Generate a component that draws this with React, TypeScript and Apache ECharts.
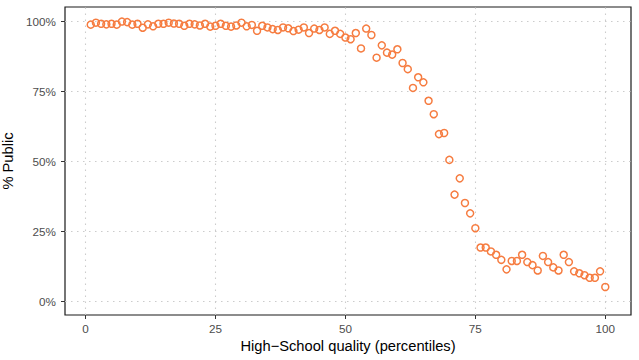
import React, { useEffect, useRef } from "react";
import * as echarts from "echarts";

const percentiles: number[] = Array.from({ length: 100 }, (_, i) => i + 1);
const publicShare: number[] = [
  98.7, 99.4, 99.0, 98.8, 99.0, 98.7, 99.8, 99.6, 98.7, 99.0,
  97.6, 98.8, 98.1, 99.0, 99.0, 99.4, 99.1, 99.0, 98.3, 99.0,
  98.8, 98.4, 99.0, 98.0, 98.3, 99.0, 98.3, 98.0, 98.4, 99.4,
  98.1, 98.6, 96.5, 98.3, 97.7, 97.1, 96.8, 97.7, 97.4, 96.4,
  96.9, 97.7, 95.7, 97.3, 96.8, 97.7, 95.4, 96.5, 95.4, 94.1,
  93.5, 95.7, 90.2, 97.3, 95.0, 86.9, 91.3, 88.7, 88.0, 89.9,
  85.0, 82.8, 76.1, 79.9, 78.1, 71.5, 66.7, 59.6, 60.0, 50.4,
  38.0, 43.8, 35.0, 31.3, 26.0, 19.1, 19.1, 17.7, 16.5, 14.7,
  11.3, 14.3, 14.3, 16.5, 13.9, 12.8, 10.9, 16.1, 13.9, 12.0,
  10.9, 16.5, 13.9, 10.6, 9.9, 9.2, 8.3, 8.3, 10.6, 5.0,
];
const xTicks: number[] = [0, 25, 50, 75, 100];
const yTicks: number[] = [0, 25, 50, 75, 100];

const FONT = "'Liberation Sans', Arial, Helvetica, sans-serif";
const POINT_COLOR = "#F67C40";
const GRID_COLOR = "#CCCCCC";
const LABEL_COLOR = "#4D4D4D";

export default function App() {
  const ref = useRef<HTMLDivElement>(null);
  useEffect(() => {
    if (!ref.current) return;
    const chart = echarts.init(ref.current, undefined, { renderer: "svg" });
    const data = percentiles.map((x, i) => [x, publicShare[i]]);
    const gridLineStyle = { color: GRID_COLOR, type: [1.5, 4.5] as any, width: 1.1 };
    const axisCommon = {
      axisLine: { show: false, onZero: false, lineStyle: { color: "#1a1a1a", width: 1.2 } },
      splitLine: { show: false },
    };
    chart.setOption({
      animation: false,
      backgroundColor: "#ffffff",
      textStyle: { fontFamily: FONT, color: LABEL_COLOR },
      grid: {
        left: 65,
        right: 8,
        top: 7,
        bottom: 45,
        outerBoundsMode: "none",
        containLabel: false,
        show: true,
        borderColor: "#1a1a1a",
        borderWidth: 1.2,
        backgroundColor: "transparent",
      },
      xAxis: {
        type: "value",
        min: -3.95,
        max: 104.95,
        name: "High\u2212School quality (percentiles)",
        nameLocation: "middle",
        nameGap: 22,
        nameTextStyle: { fontSize: 14.7, color: "#000000", fontFamily: FONT },
        ...axisCommon,
        axisTick: {
          show: true,
          length: 4,
          lineStyle: { color: "#333333", width: 1 },
          customValues: xTicks,
        },
        axisLabel: {
          customValues: xTicks,
          fontSize: 11.7,
          color: LABEL_COLOR,
          margin: 7,
          fontFamily: FONT,
        },
      },
      yAxis: {
        type: "value",
        min: -5,
        max: 105,
        name: "% Public",
        nameLocation: "middle",
        nameGap: 37,
        nameTextStyle: { fontSize: 14.7, color: "#000000", fontFamily: FONT },
        ...axisCommon,
        axisTick: {
          show: true,
          length: 4,
          lineStyle: { color: "#333333", width: 1 },
          customValues: yTicks,
        },
        axisLabel: {
          customValues: yTicks,
          fontSize: 11.7,
          color: LABEL_COLOR,
          margin: 9,
          fontFamily: FONT,
          formatter: (v: number) => `${v}%`,
        },
      },
      series: [
        {
          type: "scatter",
          data,
          symbol: "circle",
          symbolSize: 7,
          itemStyle: {
            color: "rgba(255,255,255,0)",
            borderColor: POINT_COLOR,
            borderWidth: 1.5,
            opacity: 1,
          },
          z: 3,
          markLine: {
            silent: true,
            symbol: "none",
            label: { show: false },
            lineStyle: gridLineStyle,
            emphasis: { disabled: true },
            data: [
              ...xTicks.map((v) => ({ xAxis: v })),
              ...yTicks.map((v) => ({ yAxis: v })),
            ],
            z: 1,
          },
        },
      ],
    });
    return () => chart.dispose();
  }, []);
  return (
    <div
      ref={ref}
      style={{ position: "fixed", left: 0, top: 0, width: 639, height: 360 }}
    />
  );
}
